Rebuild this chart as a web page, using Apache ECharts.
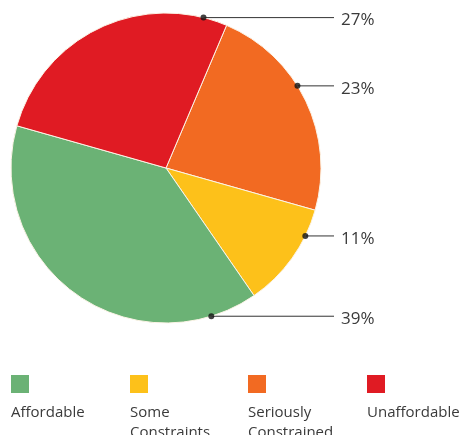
<!DOCTYPE html>
<html>
<head>
<meta charset="utf-8">
<script src="https://cdn.jsdelivr.net/npm/echarts@6/dist/echarts.min.js"></script>
<style>
html,body{margin:0;padding:0;background:#fff;}
#main{width:464px;height:435px;}
</style>
</head>
<body>
<div id="main"></div>
<script>
// ---- data ----
var categories = ['Seriously Constrained', 'Some Constraints', 'Affordable', 'Unaffordable'];
var values = [23, 11, 39, 27];
var legendOrder = ['Affordable', 'Some Constraints', 'Seriously Constrained', 'Unaffordable'];
var legendLabels = ['Affordable', 'Some\nConstraints', 'Seriously\nConstrained', 'Unaffordable'];

// ---- styling / layout config ----
var colors = {
  'Seriously Constrained': '#F26A22',
  'Some Constraints': '#FDC11A',
  'Affordable': '#6BB275',
  'Unaffordable': '#E01B23'
};
var CX = 166, CY = 168, R = 155;
var anchorAngles = [58, 116, 163, 14]; // where each leader line touches the rim (deg clockwise from top)
var labelLineEndX = 334, labelTextX = 341;
var legendLefts = [11, 130, 248, 367];

function anchorPoint(i) {
  var a = anchorAngles[i] * Math.PI / 180;
  return [CX + R * Math.sin(a), CY - R * Math.cos(a)];
}

var chart = echarts.init(document.getElementById('main'), null, {renderer: 'canvas'});

var legends = [];
legendOrder.forEach(function (name, i) {
  legends.push({
    data: [name], left: legendLefts[i], top: 375, selectedMode: false, padding: 0,
    icon: 'rect', itemWidth: 18, itemHeight: 18,
    itemStyle: {borderWidth: 0},
    formatter: function () { return ''; },
    textStyle: {fontSize: 1}
  });
  legends.push({
    data: [{name: name, icon: 'none'}], left: legendLefts[i] - 5, top: 403, selectedMode: false, padding: 0,
    itemWidth: 0, itemHeight: 0,
    formatter: function () { return legendLabels[i]; },
    textStyle: {fontFamily: 'Open Sans', fontSize: 15, color: '#3a3a3a', lineHeight: 20}
  });
});

var pieData = categories.map(function (c, i) {
  return {name: c, value: values[i], itemStyle: {color: colors[c]}};
});

var dotData = categories.map(function (c, i) { return [1, anchorAngles[i]]; });

chart.setOption({
  animation: false,
  legend: legends,
  polar: {center: [CX, CY], radius: R},
  angleAxis: {type: 'value', min: 0, max: 360, startAngle: 90, clockwise: true, show: false},
  radiusAxis: {type: 'value', min: 0, max: 1, show: false},
  series: [
    {
      type: 'pie',
      center: [CX, CY],
      radius: R,
      startAngle: 67,
      clockwise: true,
      data: pieData,
      itemStyle: {borderColor: '#fbf3e6', borderWidth: 1},
      label: {
        show: true,
        formatter: '{c}%',
        fontFamily: 'Open Sans',
        fontSize: 17,
        color: '#3a3a3a',
        overflow: 'none'
      },
      labelLine: {show: true, lineStyle: {color: '#333', width: 1}},
      labelLayout: function (p) {
        var pt = anchorPoint(p.dataIndex);
        return {
          x: labelTextX,
          y: pt[1] + 3,
          width: 60,
          align: 'left',
          verticalAlign: 'middle',
          labelLinePoints: [[pt[0], pt[1]], [labelLineEndX, pt[1]], [labelLineEndX, pt[1]]]
        };
      },
      emphasis: {disabled: true}
    },
    {
      type: 'scatter',
      coordinateSystem: 'polar',
      data: dotData,
      symbolSize: 6,
      itemStyle: {color: '#111'},
      silent: true,
      z: 5
    }
  ]
});
</script>
</body>
</html>
